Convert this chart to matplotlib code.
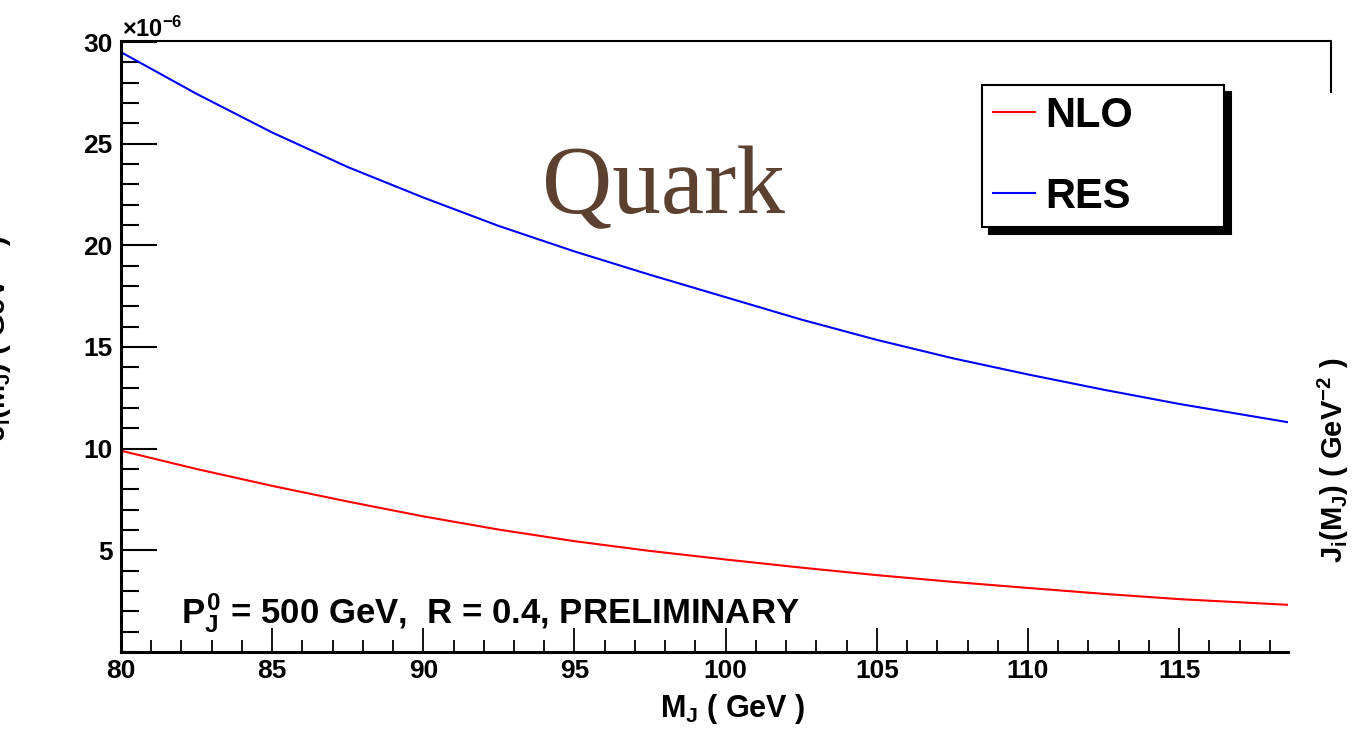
import matplotlib
matplotlib.use('Agg')
import matplotlib.pyplot as plt
from matplotlib.lines import Line2D
from matplotlib.ticker import MultipleLocator, FixedLocator

# jet mass grid (GeV) and the two curves (units of 1e-6 GeV^-2)
mass = [80, 82.5, 85, 87.5, 90, 92.5, 95, 97.5, 100, 102.5, 105, 107.5, 110, 112.5, 115, 118.6]
res = [29.5, 27.45, 25.55, 23.85, 22.35, 20.95, 19.7, 18.55, 17.45, 16.35, 15.35, 14.45, 13.65, 12.9, 12.2, 11.3]
nlo = [9.9, 9.0, 8.17, 7.4, 6.67, 6.02, 5.45, 4.97, 4.55, 4.15, 3.78, 3.45, 3.15, 2.86, 2.6, 2.32]

x_major = [80, 85, 90, 95, 100, 105, 110, 115]
y_major = [5, 10, 15, 20, 25, 30]

plt.rcParams['font.family'] = ['Liberation Sans', 'DejaVu Sans']
plt.rcParams['font.weight'] = 'bold'
plt.rcParams['mathtext.fontset'] = 'custom'
plt.rcParams['mathtext.rm'] = 'Liberation Sans:bold'
plt.rcParams['mathtext.it'] = 'Liberation Sans:bold'
plt.rcParams['mathtext.bf'] = 'Liberation Sans:bold'

W, H = 1356, 733
fig = plt.figure(figsize=(W / 100, H / 100), dpi=100)
ax = fig.add_axes([121 / W, 1 - 652 / H, (1288 - 121) / W, (652 - 42) / H])

ax.plot(mass, nlo, color='#ff0000', lw=1.5, label='NLO')
ax.plot(mass, res, color='#0000ff', lw=1.5, label='RES')

ax.set_xlim(80, 118.6)
ax.set_ylim(0, 30)

ax.xaxis.set_major_locator(FixedLocator(x_major))
ax.xaxis.set_minor_locator(MultipleLocator(1))
ax.yaxis.set_major_locator(FixedLocator(y_major))
ax.yaxis.set_minor_locator(MultipleLocator(1))
ax.set_xticklabels([str(v) for v in x_major])
ax.set_yticklabels([str(v) for v in y_major])

ax.tick_params(axis='y', which='major', direction='in', length=26, width=1.5, labelsize=19, pad=6)
ax.tick_params(axis='y', which='minor', direction='in', length=13, width=1.5)
ax.tick_params(axis='x', which='major', direction='in', length=17, width=1.3, labelsize=19, pad=5)
ax.tick_params(axis='x', which='minor', direction='in', length=9, width=1.3)

for s in ['top', 'right']:
    ax.spines[s].set_visible(False)
for s in ['left', 'bottom']:
    ax.spines[s].set_linewidth(2.2)

# top frame line running past the plot to the right
fig.add_artist(Line2D([121 / W, 1331 / W, 1331 / W], [1 - 41 / H, 1 - 41 / H, 1 - 92 / H],
                      transform=fig.transFigure, color='k', lw=1.5))

leg = ax.legend(loc='upper left', bbox_to_anchor=(982 / W, 1 - 228 / H, 242 / W, 143 / H),
                bbox_transform=fig.transFigure, mode='expand', fancybox=False,
                shadow={'ox': 5, 'oy': -5, 'color': 'k', 'alpha': 1},
                prop={'family': 'Liberation Sans', 'weight': 'bold', 'size': 30},
                handlelength=1.0, handletextpad=0.26, borderpad=0.26, labelspacing=0.98,
                borderaxespad=0, framealpha=1)
leg.get_frame().set_edgecolor('k')
leg.get_frame().set_linewidth(1.5)

fig.text(663 / W, 1 - 213 / H, 'Quark', family='Liberation Serif', weight='normal',
         fontsize=70, color='#5c4030', ha='center', va='baseline')

fig.text(181 / W, 1 - 623 / H, r'$P^0_J$ = 500 GeV,  R = 0.4, PRELIMINARY',
         fontsize=25, ha='left', va='baseline')

fig.text(122 / W, 1 - 37 / H, r'$\times$10$^{-6}$', fontsize=17, ha='left', va='baseline')

fig.text(805 / W, 1 - 717 / H, r'$M_J$ ( GeV )', fontsize=22, ha='right', va='baseline')

ylab = r'$J_i(M_J)$ ( GeV$^{-2}$ )'
fig.text(1333 / W, 1 - 460 / H, ylab, fontsize=21, rotation=90, ha='center', va='center')
# same title repeated at the left edge, mostly cut off by the figure border
fig.text(-4 / W, 1 - 338 / H, ylab, fontsize=21, rotation=90, ha='center', va='center')

fig.savefig('out.png', dpi=100)
